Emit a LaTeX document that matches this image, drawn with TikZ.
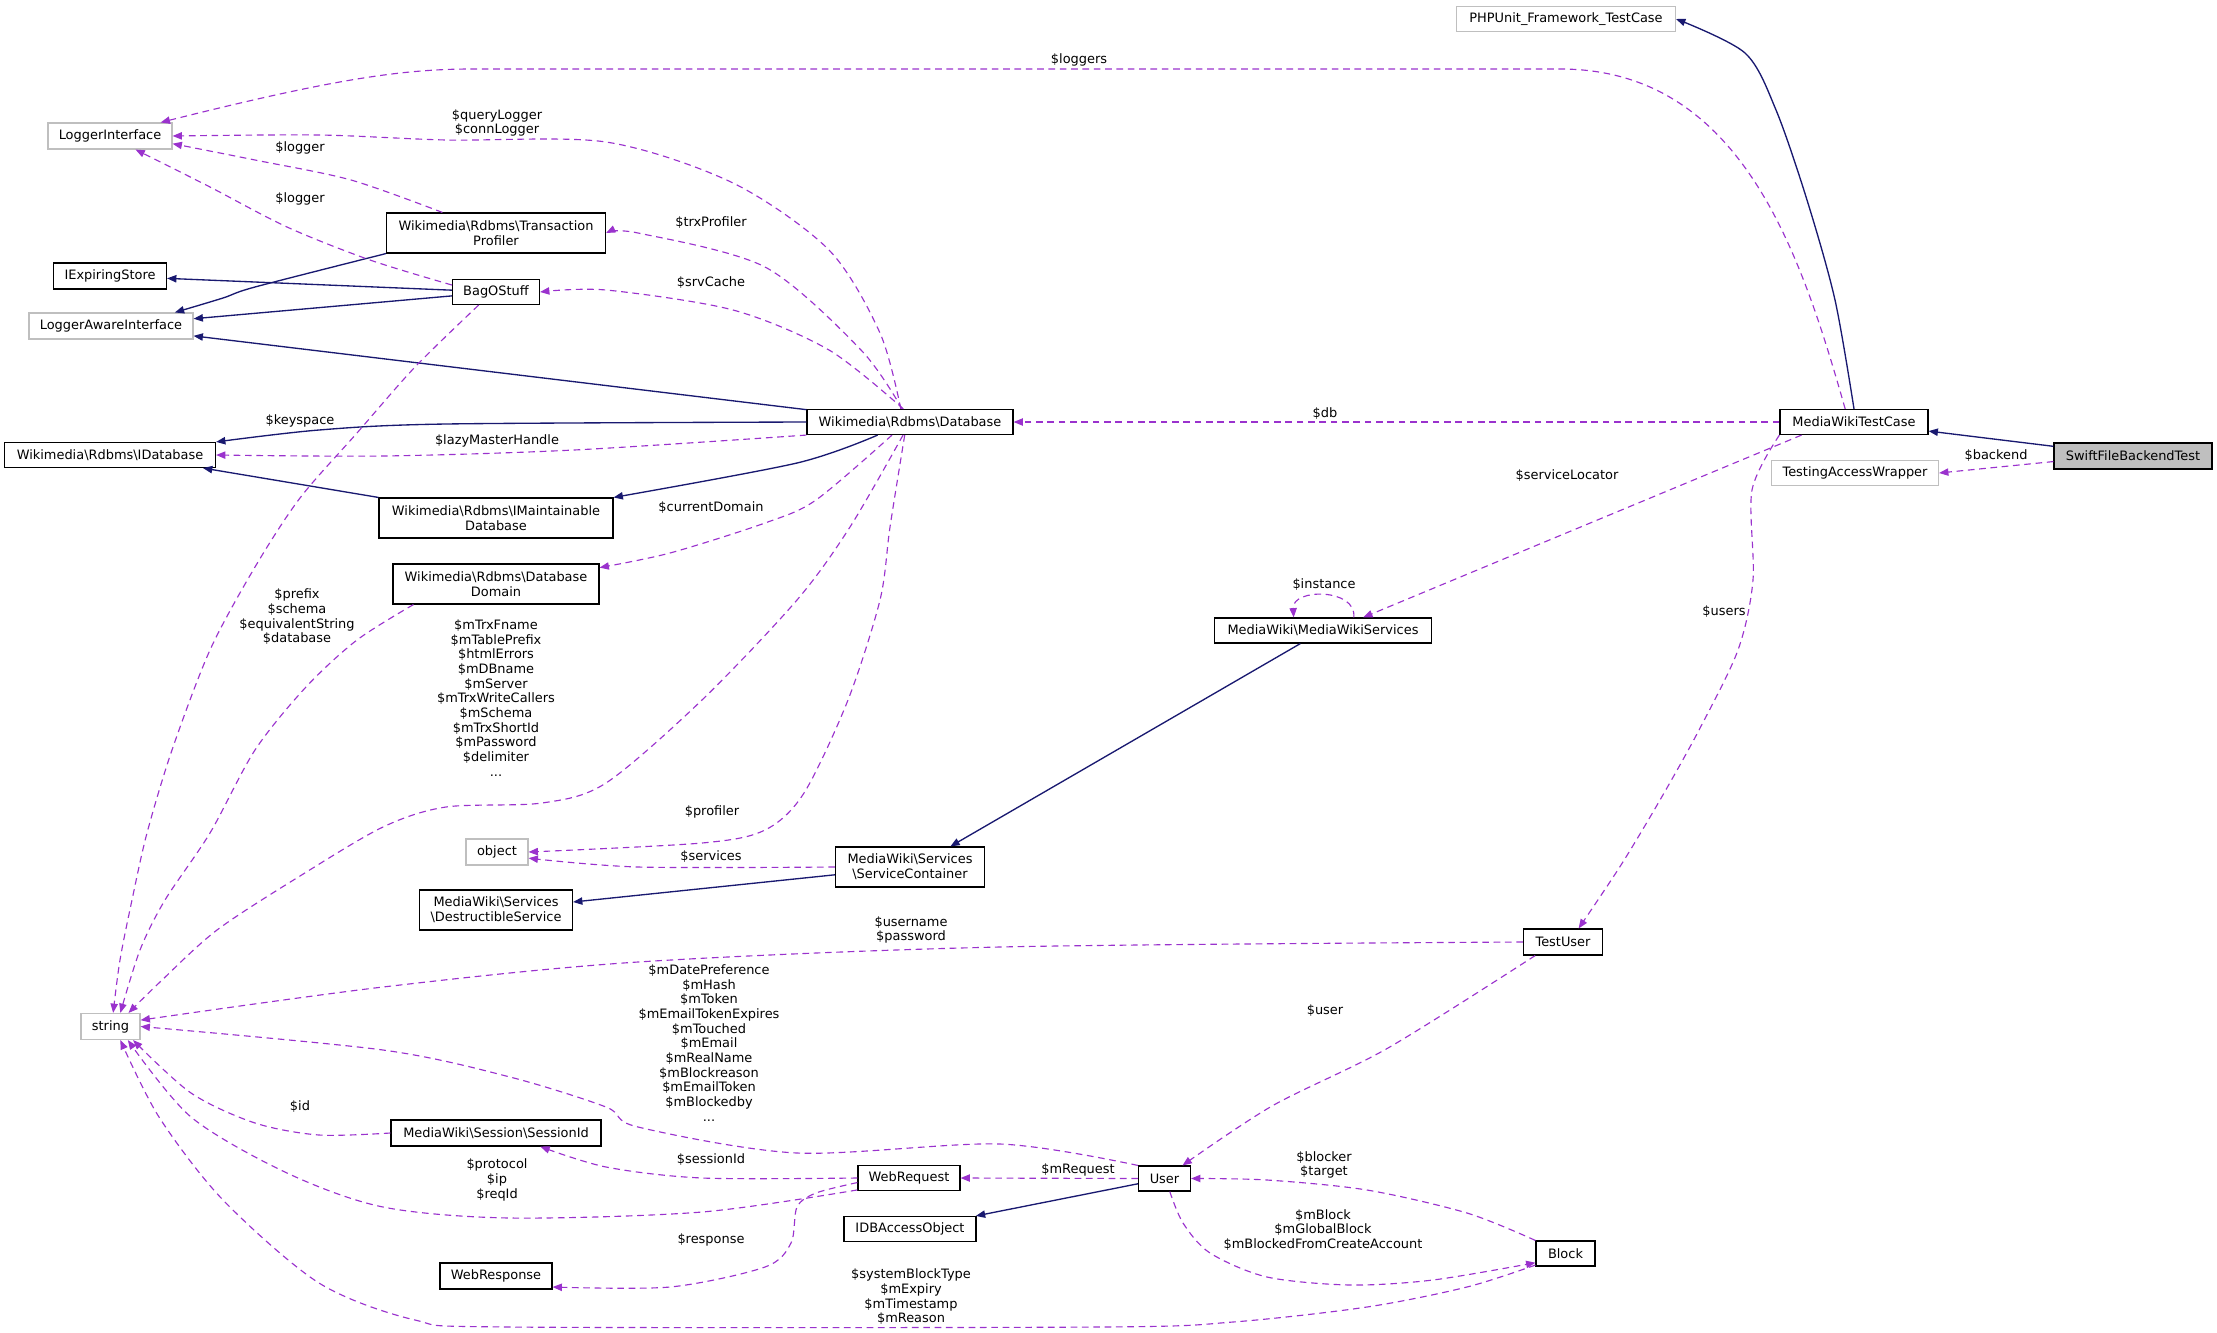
\documentclass[tikz,border=0pt]{standalone}
\usepackage{fontspec}
\setmainfont{DejaVu Sans}
\usetikzlibrary{arrows.meta}
\definecolor{inhblue}{HTML}{191970}
\definecolor{refpurple}{HTML}{9A32CD}
\definecolor{extgray}{HTML}{BFBFBF}
\newcommand{\nsep}{\textbackslash}
\tikzset{
  cls/.style 2 args={draw=black,line width=0.85pt,fill=white,align=center,inner sep=0pt,
    minimum width=#1*0.75pt,minimum height=#2*0.75pt,font=\fontsize{9.7}{11}\selectfont},
  extcls/.style 2 args={cls={#1}{#2},draw=extgray},
  topcls/.style 2 args={cls={#1}{#2},fill=extgray},
  lbl/.style={font=\fontsize{9.7}{11}\selectfont,align=center,inner sep=0pt},
  inherit/.style={-{Triangle[length=7pt,width=5.5pt]},draw=inhblue,line width=1pt},
  member/.style={-{Triangle[length=7pt,width=5.5pt]},draw=refpurple,line width=0.85pt,
    dash pattern=on 5pt off 3.5pt}
}
\begin{document}
\begin{tikzpicture}[x=0.75pt,y=-0.75pt]
  \useasboundingbox (0,0) rectangle (2217,1332);
  % Classes
  \node[extcls={219}{25}] (phpunit) at (1566,19) {PHPUnit\_Framework\_TestCase};
  \node[extcls={124}{26}] (logger) at (110,136) {LoggerInterface};
  \node[cls={219}{40}] (trxprof) at (496,233) {Wikimedia\nsep Rdbms\nsep Transaction\\Profiler};
  \node[cls={113}{26}] (expiring) at (110,276) {IExpiringStore};
  \node[cls={87}{25}] (bag) at (496,292) {BagOStuff};
  \node[extcls={164}{26}] (aware) at (111,326) {LoggerAwareInterface};
  \node[cls={206}{25}] (db) at (910,422) {Wikimedia\nsep Rdbms\nsep Database};
  \node[cls={211}{25}] (idb) at (110,455) {Wikimedia\nsep Rdbms\nsep IDatabase};
  \node[cls={234}{40}] (maint) at (496,518) {Wikimedia\nsep Rdbms\nsep IMaintainable\\Database};
  \node[cls={206}{40}] (domain) at (496,584) {Wikimedia\nsep Rdbms\nsep Database\\Domain};
  \node[extcls={62}{26}] (obj) at (497,852) {object};
  \node[cls={149}{40}] (container) at (910,867) {MediaWiki\nsep Services\\\nsep ServiceContainer};
  \node[cls={153}{40}] (destruct) at (496,910) {MediaWiki\nsep Services\\\nsep DestructibleService};
  \node[extcls={59}{26}] (str) at (110.5,1026.5) {string};
  \node[cls={210}{26}] (session) at (496,1133) {MediaWiki\nsep Session\nsep SessionId};
  \node[cls={102}{25}] (request) at (909,1178) {WebRequest};
  \node[cls={132}{25}] (dbaccess) at (910,1229) {IDBAccessObject};
  \node[cls={112}{26}] (response) at (496,1276) {WebResponse};
  \node[cls={52}{25}] (user) at (1164.5,1178.5) {User};
  \node[cls={59}{25}] (block) at (1565.5,1253.5) {Block};
  \node[cls={79}{26}] (testuser) at (1563,942) {TestUser};
  \node[cls={217}{25}] (services) at (1323,630.5) {MediaWiki\nsep MediaWikiServices};
  \node[cls={148}{25}] (testcase) at (1854,422) {MediaWikiTestCase};
  \node[topcls={158}{26}] (swift) at (2133,456) {SwiftFileBackendTest};
  \node[extcls={167}{25}] (wrapper) at (1855,473) {TestingAccessWrapper};

  % Inheritance
  \draw[inherit] plot[smooth] coordinates {(testcase.north) (1835,300) (1807,200) (1776,110) (1745,53) (phpunit.east)};
  \draw[inherit] (swift) -- (testcase);
  \draw[inherit] plot[smooth] coordinates {(trxprof.south west) (255,287) (223,298) (aware.12)};
  \draw[inherit] (bag) -- (expiring);
  \draw[inherit] (bag) -- (aware);
  \draw[inherit] (db) -- (aware);
  \draw[inherit] plot[smooth] coordinates {(db.west) (446,424) (319,430) (idb.north east)};
  \draw[inherit] (maint.north west) -- (idb.-8);
  \draw[inherit] plot[smooth] coordinates {(db.-158) (797,463) (maint.north east)};
  \draw[inherit] (services.-150) -- (container.27);
  \draw[inherit] (container) -- (destruct);
  \draw[inherit] (user) -- (dbaccess);

  % Members
  \draw[member] (testcase.124) .. controls (1800,250) and (1740,69) .. (1560,69)
    -- (1000,69) -- (472,69) .. controls (400,69) and (330,80) .. (logger.15);
  \draw[member] plot[smooth] coordinates {(db.125) (880,333) (829,250) (733,183) (606,142) (446,140) (319,135) (logger.east)};
  \draw[member] plot[smooth] coordinates {(trxprof.159) (351,180) (255,160) (logger.-7)};
  \draw[member] plot[smooth] coordinates {(bag.171) (370,260) (287,227) (210,187) (logger.-28)};
  \draw[member] plot[smooth] coordinates {(db.121) (861,350) (765,267) (638,233) (trxprof.east)};
  \draw[member] plot[smooth] coordinates {(db.117) (829,350) (733,310) (606,290) (bag.east)};
  \draw[member] plot[smooth] coordinates {(db.south west) (574,450) (383,456) (idb.east)};
  \draw[member] plot[smooth] coordinates {(db.-144) (816,500) (765,523) (670,553) (domain.9)};
  \draw[member] plot[smooth] coordinates {(db.-118) (850,527) (797,600) (702,700) (606,783) (542,803) (446,807) (383,827) (300,876) (217,930) (160,982) (str.37)};
  \draw[member] plot[smooth] coordinates {(db.-112) (890,527) (880,600) (848,700) (804,793) (765,830) (702,843) (obj.east)};
  \draw[member] plot[smooth] coordinates {(container.west) (638,867) (obj.-11)};
  \draw[member] plot[smooth] coordinates {(domain.-166) (357,640) (306,687) (255,750) (210,833) (165,900) (140,950) (str.54)};
  \draw[member] plot[smooth] coordinates {(bag.-143) (415,367) (357,433) (300,498) (255,567) (210,650) (172,750) (147,833) (132,900) (120,960) (str.79)};
  \draw[member] (testcase.west) -- (db.east);
  \draw[member] (testcase.-166) -- (services.18);
  \draw[member] (services.23) .. controls (1357,588) and (1292,588) .. (services.156);
  \draw[member] plot[smooth] coordinates {(testcase.south west) (1752,490) (1753,580) (1738,650) (1699,730) (1660,800) (1621,865) (testuser.41)};
  \draw[member] (swift.-176) -- (wrapper.east);
  \draw[member] plot[smooth] coordinates {(testuser.west) (1000,947) (638,962) (383,987) (str.12)};
  \draw[member] plot[smooth] coordinates {(testuser.-154) (1388,1048) (1272,1106) (user.36)};
  \draw[member] plot[smooth] coordinates {(user.north west) (1000,1144) (797,1153) (638,1127) (606,1107) (510,1077) (383,1050) (str.east)};
  \draw[member] (user.west) -- (request.east);
  \draw[member] plot[smooth] coordinates {(request.west) (702,1178) (606,1167) (session.-17)};
  \draw[member] plot[smooth] coordinates {(request.-167) (702,1212) (510,1218) (383,1207) (287,1173) (191,1117) (str.-38)};
  \draw[member] plot[smooth] coordinates {(request.-175) (816,1193) (797,1207) (791,1243) (765,1267) (670,1287) (response.-11)};
  \draw[member] plot[smooth] coordinates {(session.west) (319,1135) (255,1123) (191,1093) (str.-31)};
  \draw[member] plot[smooth] coordinates {(block.north west) (1467,1213) (1367,1190) (1267,1180) (user.east)};
  \draw[member] plot[smooth] coordinates {(user.-68) (1183,1223) (1210,1253) (1267,1277) (1350,1285) (1433,1280) (block.-163)};
  \draw[member] plot[smooth] coordinates {(block.-159) (1467,1287) (1367,1307) (1233,1322) (1100,1327) (510,1327) (415,1320) (319,1283) (223,1200) (159,1117) (str.-54)};

  % Labels
  \node[lbl] (lb-loggers) at (1079,60) {\$loggers};
  \node[lbl] (lb-querylog) at (497,123) {\$queryLogger\\\$connLogger};
  \node[lbl] (lb-logger1) at (300,148) {\$logger};
  \node[lbl] (lb-logger2) at (300,199) {\$logger};
  \node[lbl] (lb-trxprof) at (711,223) {\$trxProfiler};
  \node[lbl] (lb-srvcache) at (711,283) {\$srvCache};
  \node[lbl] (lb-keyspace) at (300,421) {\$keyspace};
  \node[lbl] (lb-lazy) at (497,441) {\$lazyMasterHandle};
  \node[lbl] (lb-domain) at (711,508) {\$currentDomain};
  \node[lbl] (lb-prefix) at (297,617) {\$prefix\\\$schema\\\$equivalentString\\\$database};
  \node[lbl] (lb-mtrx) at (496,698) {\$mTrxFname\\\$mTablePrefix\\\$htmlErrors\\\$mDBname\\\$mServer\\\$mTrxWriteCallers\\\$mSchema\\\$mTrxShortId\\\$mPassword\\\$delimiter\\...};
  \node[lbl] (lb-profiler) at (712,812) {\$profiler};
  \node[lbl] (lb-services) at (711,857) {\$services};
  \node[lbl] (lb-db) at (1325,414) {\$db};
  \node[lbl] (lb-servloc) at (1567,476) {\$serviceLocator};
  \node[lbl] (lb-instance) at (1324,585) {\$instance};
  \node[lbl] (lb-users) at (1724,612) {\$users};
  \node[lbl] (lb-backend) at (1996,456) {\$backend};
  \node[lbl] (lb-username) at (911,930) {\$username\\\$password};
  \node[lbl] (lb-mdate) at (709,1043) {\$mDatePreference\\\$mHash\\\$mToken\\\$mEmailTokenExpires\\\$mTouched\\\$mEmail\\\$mRealName\\\$mBlockreason\\\$mEmailToken\\\$mBlockedby\\...};
  \node[lbl] (lb-id) at (300,1107) {\$id};
  \node[lbl] (lb-session) at (711,1160) {\$sessionId};
  \node[lbl] (lb-request) at (1078,1170) {\$mRequest};
  \node[lbl] (lb-user) at (1325,1011) {\$user};
  \node[lbl] (lb-blocker) at (1324,1165) {\$blocker\\\$target};
  \node[lbl] (lb-mblock) at (1323,1230) {\$mBlock\\\$mGlobalBlock\\\$mBlockedFromCreateAccount};
  \node[lbl] (lb-protocol) at (497,1180) {\$protocol\\\$ip\\\$reqId};
  \node[lbl] (lb-response) at (711,1240) {\$response};
  \node[lbl] (lb-sysblock) at (911,1297) {\$systemBlockType\\\$mExpiry\\\$mTimestamp\\\$mReason};
\end{tikzpicture}
\end{document}
